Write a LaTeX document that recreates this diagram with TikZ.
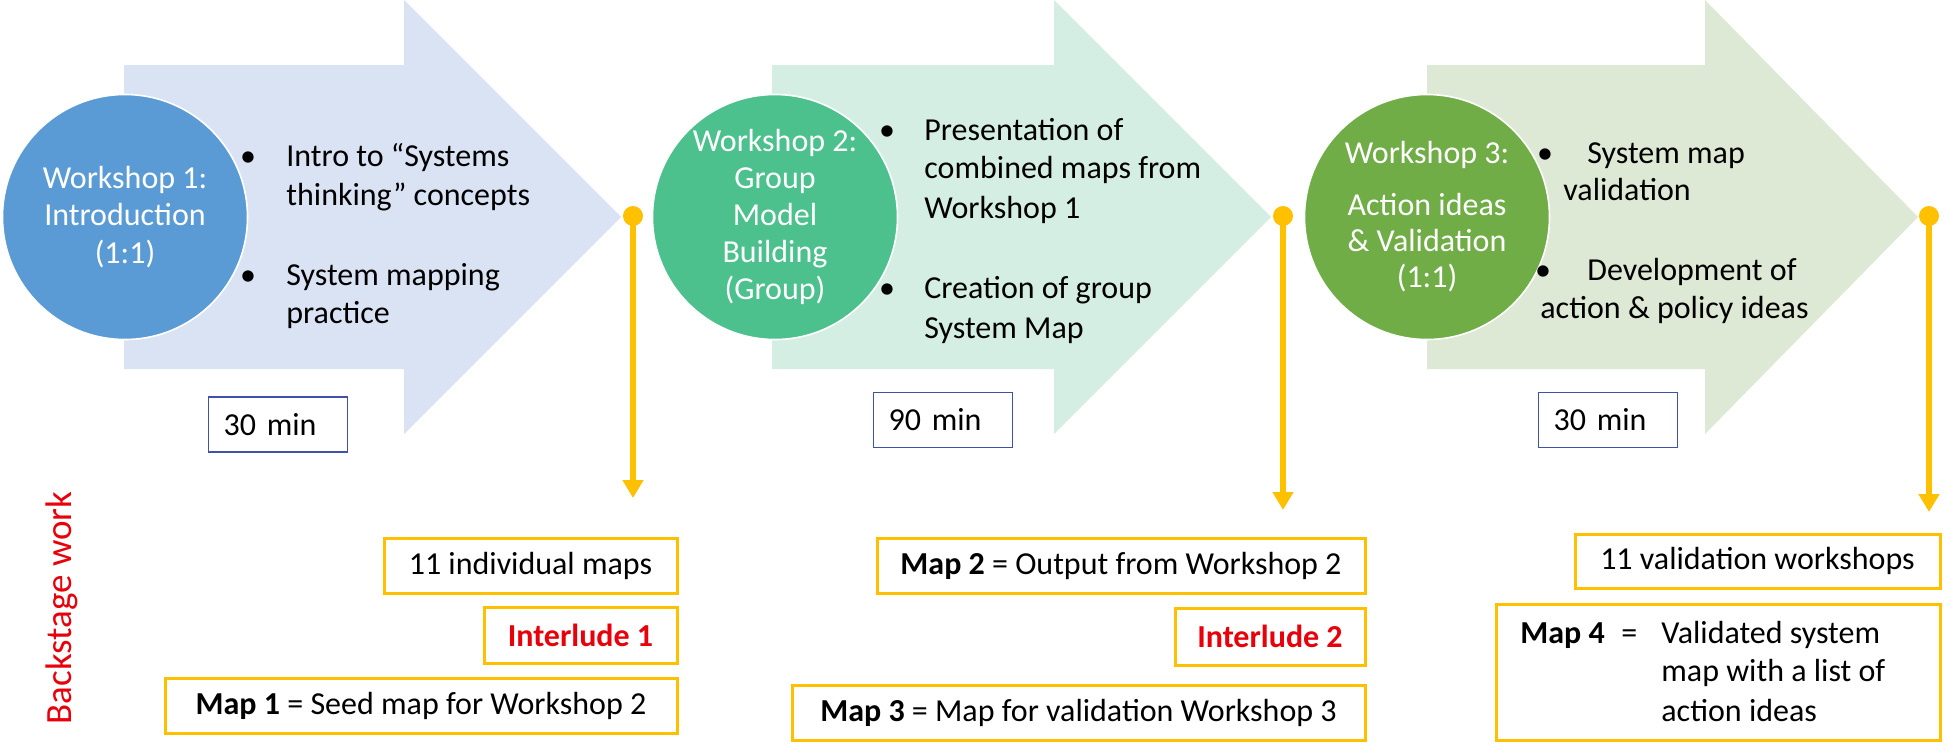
\documentclass[tikz,border=0pt]{standalone}
\usepackage{fontspec}
\setmainfont{Carlito}
\usetikzlibrary{arrows.meta}
\definecolor{arrA}{HTML}{DAE3F3}
\definecolor{arrB}{HTML}{D5EEE4}
\definecolor{arrC}{HTML}{DDE8D5}
\definecolor{cirA}{HTML}{5B9BD5}
\definecolor{cirB}{HTML}{4CC18D}
\definecolor{cirC}{HTML}{70AD47}
\definecolor{ygold}{HTML}{FFC000}
\definecolor{minblue}{HTML}{4052A8}
\definecolor{redtxt}{HTML}{E8000B}
\begin{document}
\begin{tikzpicture}[x=0.5pt,y=-0.5pt,
  txt/.style={inner sep=0pt, anchor=west, font=\fontsize{16}{19}\selectfont, text height=11pt, text depth=3pt},
  bul/.style={txt, anchor=center},
  wscircle/.style={circle, draw=white, line width=0.8pt, minimum size=122.5pt, inner sep=0pt, text=white, align=center, font=\fontsize{16}{18.75}\selectfont},
  minbox/.style={draw=minblue, line width=0.7pt, fill=white, inner xsep=7.5pt, inner ysep=0pt, minimum height=27.5pt, text width=54.5pt, align=left, font=\fontsize{16}{19}\selectfont, anchor=west},
  ybox/.style={draw=ygold, line width=1.5pt, fill=white, inner sep=0pt, minimum height=27.5pt, font=\fontsize{16}{19}\selectfont},
  ydot/.style={circle, fill=ygold, inner sep=0pt, minimum size=10pt},
  yarrow/.style={draw=ygold, line width=2.8pt, -{Triangle[width=10pt,length=9pt]}}
]
\fill[white] (0,0) rectangle (1944,745);
\useasboundingbox (0,0) rectangle (1944,745);

% big arrows
\fill[arrA] (124,65) -- (404,65) -- (404,0) -- (621,217) -- (404,434) -- (404,369) -- (124,369) -- cycle;
\fill[arrB] (772,65) -- (1054,65) -- (1054,0) -- (1271,217) -- (1054,434) -- (1054,369) -- (772,369) -- cycle;
\fill[arrC] (1427,65) -- (1705,65) -- (1705,0) -- (1918,217) -- (1705,434) -- (1705,369) -- (1427,369) -- cycle;

% circles
\node[wscircle, fill=cirA] (c1) at (125,217) {Workshop 1:\\Introduction\\(1:1)};
\node[wscircle, fill=cirB, font=\fontsize{16}{18.4}\selectfont] (c2) at (775,217) {Workshop 2:\\Group\\Model\\Building\\(Group)};
\node[wscircle, fill=cirC, font=\fontsize{16}{18}\selectfont] (c3) at (1427,217) {Workshop 3:\\[8pt]Action ideas\\\& Validation\\(1:1)};

% bullets arrow 1
\node[bul] (b11) at (248,158) {•};
\node[txt] (t11) at (286,158) {Intro to “Systems};
\node[txt] (t12) at (286,197) {thinking” concepts};
\node[bul] (b12) at (248,277) {•};
\node[txt] (t13) at (286,277) {System mapping};
\node[txt] (t14) at (286,315) {practice};

% bullets arrow 2
\node[bul] (b21) at (887,132) {•};
\node[txt] (t21) at (924,132) {Presentation of};
\node[txt] (t22) at (924,170) {combined maps from};
\node[txt] (t23) at (924,210) {Workshop 1};
\node[bul] (b22) at (887,290) {•};
\node[txt] (t24) at (924,290) {Creation of group};
\node[txt] (t25) at (924,330) {System Map};

% bullets arrow 3
\node[bul] (b31) at (1545,155) {•};
\node[txt] (t31) at (1587,155) {System map};
\node[txt] (t32) at (1563,192) {validation};
\node[bul] (b32) at (1543,272) {•};
\node[txt] (t33) at (1587,272) {Development of};
\node[txt] (t34) at (1540,310) {action \& policy ideas};

% duration boxes
\node[minbox] (m1) at (208,424.5) {30 min};
\node[minbox] (m2) at (873,420) {90 min};
\node[minbox] (m3) at (1538,420) {30 min};

% yellow connectors
\node[ydot] (d1) at (633,216) {};
\node[ydot] (d2) at (1283,216) {};
\node[ydot] (d3) at (1929,216) {};
\coordinate (e1) at (633,498);
\coordinate (e2) at (1283,510);
\coordinate (e3) at (1929,512);
\draw[yarrow] (d1.center) -- (e1);
\draw[yarrow] (d2.center) -- (e2);
\draw[yarrow] (d3.center) -- (e3);

% backstage boxes
\node[ybox, minimum width=146.5pt] (a1) at (530.5,565.5) {11 individual maps};
\node[ybox, minimum width=96.5pt, minimum height=28pt, text=redtxt, font=\fontsize{16}{19}\selectfont\bfseries] (a2) at (580.5,635) {Interlude 1};
\node[ybox, minimum width=256pt] (a3) at (421,705.5) {\textbf{Map 1} = Seed map for Workshop 2};

\node[ybox, minimum width=244pt] (g1) at (1121,565.5) {\textbf{Map 2} = Output from Workshop 2};
\node[ybox, minimum width=95pt, minimum height=28.5pt, text=redtxt, font=\fontsize{16}{19}\selectfont\bfseries] (g2) at (1270,636.5) {Interlude 2};
\node[ybox, minimum width=286.5pt] (g3) at (1078.5,712.5) {\textbf{Map 3} = Map for validation Workshop 3};

\node[ybox, minimum width=182.5pt, minimum height=27pt] (v1) at (1757.5,561) {11 validation workshops};
\node[ybox, minimum width=222pt, minimum height=68pt] (v2) at (1718,672) {};
\node[txt, font=\fontsize{16}{19}\selectfont\bfseries] (v2a) at (1520,635) {Map 4};
\node[txt] (v2b) at (1621,635) {=};
\node[txt] (v2c) at (1661,635) {Validated system};
\node[txt] (v2d) at (1661,673) {map with a list of};
\node[txt] (v2e) at (1661,713) {action ideas};

% side label
\node[rotate=90, text=redtxt, inner sep=0pt, font=\fontsize{18.5}{22}\selectfont] (bw) at (62,608) {Backstage work};
\end{tikzpicture}
\end{document}
